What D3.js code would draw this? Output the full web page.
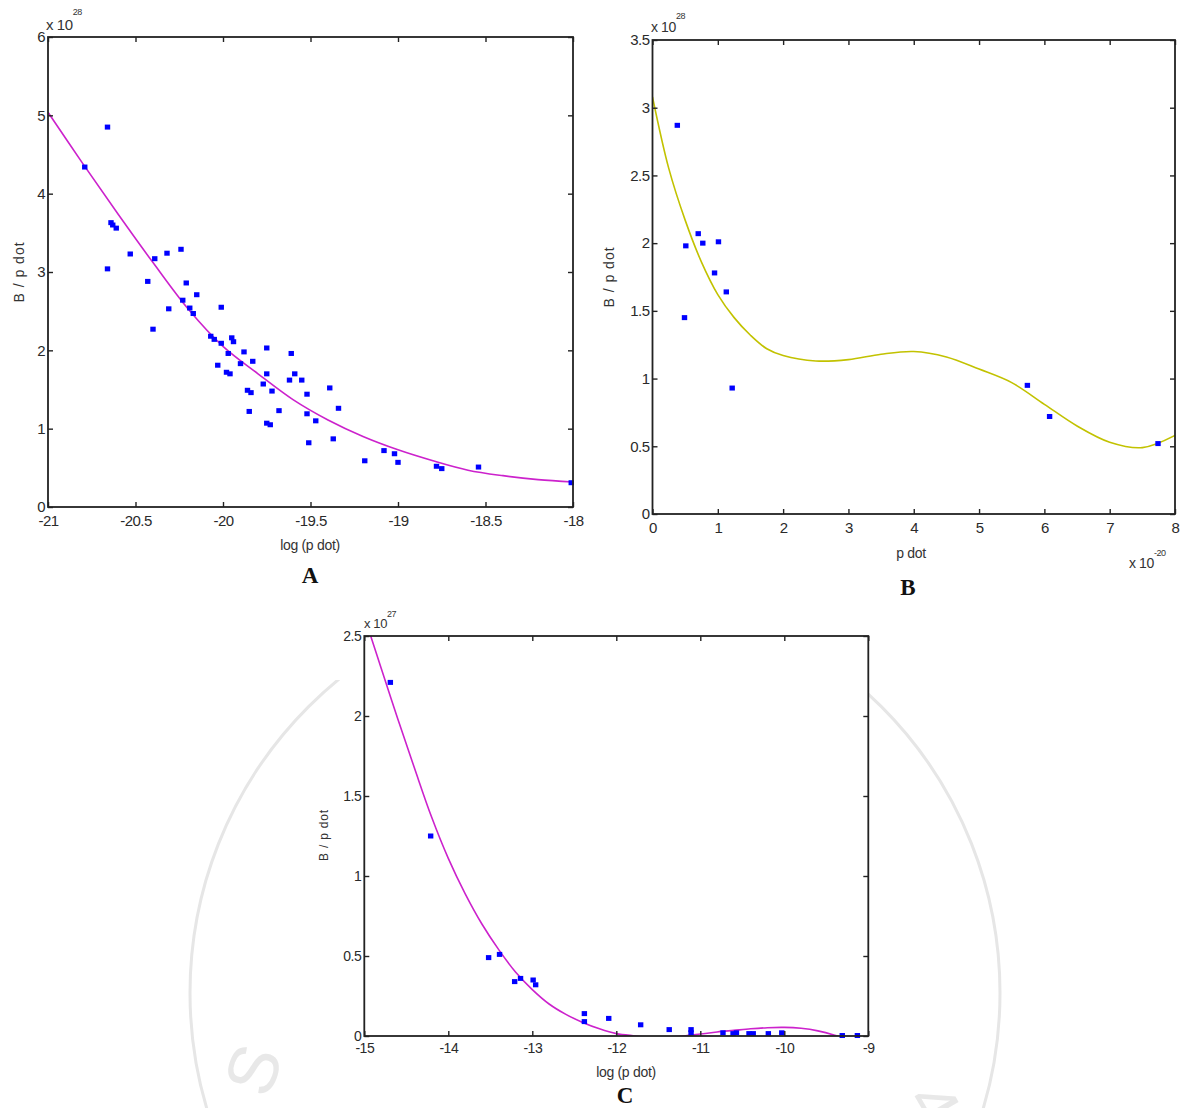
<!DOCTYPE html>
<html>
<head>
<meta charset="utf-8">
<script src="https://cdn.jsdelivr.net/npm/d3@7"></script>
<style>
  body { margin: 0; background: #fff; }
  text { font-family: "Liberation Sans", Arial, sans-serif; fill: #2a2a2a; }
</style>
</head>
<body>
<div id="chart"></div>
<script>
// ---- Panel A: B / p dot against log(p dot) ----
const aDotX = [-20.66, -20.79, -20.64, -20.61, -20.63, -20.53, -20.66, -20.39, -20.32, -20.24, -20.43, -20.21, -20.15, -20.23, -20.31, -20.19, -20.17, -20.01, -20.40, -20.07, -20.05, -20.01, -19.95, -19.94, -19.97, -19.88, -20.03, -19.98, -19.96, -19.90, -19.83, -19.75, -19.61, -19.75, -19.77, -19.72, -19.86, -19.84, -19.85, -19.68, -19.75, -19.73, -19.62, -19.59, -19.55, -19.52, -19.52, -19.47, -19.51, -19.39, -19.34, -19.37, -19.19, -19.08, -19.02, -19.00, -18.78, -18.75, -18.54, -18.01];
const aDotY = [4.85, 4.34, 3.63, 3.56, 3.60, 3.23, 3.04, 3.17, 3.24, 3.29, 2.88, 2.86, 2.71, 2.64, 2.53, 2.54, 2.47, 2.55, 2.27, 2.18, 2.14, 2.09, 2.16, 2.11, 1.96, 1.98, 1.81, 1.72, 1.70, 1.83, 1.86, 2.03, 1.96, 1.70, 1.57, 1.48, 1.49, 1.46, 1.22, 1.23, 1.07, 1.05, 1.62, 1.70, 1.62, 1.44, 1.19, 1.10, 0.82, 1.52, 1.26, 0.87, 0.59, 0.72, 0.68, 0.57, 0.52, 0.49, 0.51, 0.31];
const aFitX = [-21, -20.8, -20.6, -20.4, -20.2, -20, -19.8, -19.6, -19.4, -19.2, -19, -18.8, -18.6, -18.4, -18.2, -18];
const aFitY = [5.04, 4.38, 3.74, 3.12, 2.53, 2.05, 1.70, 1.37, 1.11, 0.90, 0.73, 0.59, 0.47, 0.40, 0.35, 0.32];
const aTicksX = [-21, -20.5, -20, -19.5, -19, -18.5, -18];
const aTicksY = [0, 1, 2, 3, 4, 5, 6];

// ---- Panel B: B / p dot against p dot ----
const bDotX = [0.38, 0.51, 0.49, 0.70, 0.77, 1.01, 0.95, 1.13, 1.22, 5.74, 6.08, 7.74];
const bDotY = [2.87, 1.98, 1.45, 2.07, 2.00, 2.01, 1.78, 1.64, 0.93, 0.95, 0.72, 0.52];
const bFitX = [0, 0.25, 0.5, 0.75, 1, 1.25, 1.5, 1.75, 2, 2.5, 3, 3.5, 4, 4.5, 5, 5.5, 6, 6.5, 7, 7.5, 8];
const bFitY = [3.08, 2.55, 2.17, 1.86, 1.62, 1.45, 1.32, 1.22, 1.17, 1.13, 1.14, 1.18, 1.20, 1.16, 1.07, 0.97, 0.81, 0.65, 0.53, 0.49, 0.58];
const bTicksX = [0, 1, 2, 3, 4, 5, 6, 7, 8];
const bTicksY = [0, 0.5, 1, 1.5, 2, 2.5, 3, 3.5];

// ---- Panel C: B / p dot against log(p dot) ----
const cDotX = [-14.69, -14.21, -13.52, -13.39, -13.21, -13.14, -12.99, -12.96, -12.38, -12.38, -12.09, -11.71, -11.37, -11.11, -11.11, -10.73, -10.61, -10.57, -10.42, -10.37, -10.19, -10.03, -9.31, -9.13];
const cDotY = [2.21, 1.25, 0.49, 0.51, 0.34, 0.36, 0.35, 0.32, 0.14, 0.09, 0.11, 0.07, 0.04, 0.04, 0.02, 0.02, 0.015, 0.02, 0.015, 0.015, 0.015, 0.02, 0.003, 0.003];
const cFitX = [-14.93, -14.8, -14.6, -14.4, -14.2, -14.0, -13.8, -13.6, -13.4, -13.2, -13.0, -12.8, -12.6, -12.4, -12.2, -12.0, -11.8, -11.6, -11.4, -11.2, -11.0, -10.8, -10.6, -10.4, -10.2, -10.0, -9.8, -9.6, -9.4, -9.2, -9.0];
const cFitY = [2.51, 2.30, 1.98, 1.67, 1.37, 1.11, 0.89, 0.70, 0.54, 0.40, 0.29, 0.20, 0.135, 0.085, 0.045, 0.015, 0.002, -0.006, -0.006, 0.0, 0.012, 0.025, 0.035, 0.045, 0.052, 0.054, 0.048, 0.032, 0.005, -0.03, -0.08];
const cTicksX = [-15, -14, -13, -12, -11, -10, -9];
const cTicksY = [0, 0.5, 1, 1.5, 2, 2.5];

const width = 1182;
const height = 1108;

const svg = d3.select('#chart')
    .append('svg')
    .attr('width', width)
    .attr('height', height);

svg.append('rect')
    .attr('width', width)
    .attr('height', height)
    .attr('fill', '#fff');

// faint watermark behind panel C
svg.append('clipPath').attr('id', 'wm-clip')
    .append('rect').attr('x', 0).attr('y', 680).attr('width', width).attr('height', height - 680);
const wm = svg.append('g').attr('clip-path', 'url(#wm-clip)');
wm.append('circle')
    .attr('cx', 595).attr('cy', 993).attr('r', 405)
    .attr('fill', 'none').attr('stroke', '#e6e6e6').attr('stroke-width', 3);
wm.append('text')
    .attr('transform', 'translate(268,1100) rotate(-70)')
    .style('font-size', '70px').style('fill', '#e8e8e8')
    .text('S');
wm.append('text')
    .attr('transform', 'translate(905,1100) rotate(60)')
    .style('font-size', '66px').style('fill', '#e8e8e8')
    .text('4');

function drawPanel(p)
{
    const x = d3.scaleLinear().domain(p.xDomain).range([p.left, p.right]);
    const y = d3.scaleLinear().domain(p.yDomain).range([p.bottom, p.top]);
    const g = svg.append('g');

    g.append('rect')
        .attr('x', p.left).attr('y', p.top)
        .attr('width', p.right - p.left).attr('height', p.bottom - p.top)
        .attr('fill', '#fff');

    g.append('clipPath').attr('id', p.id + '-clip')
        .append('rect')
        .attr('x', p.left).attr('y', p.top)
        .attr('width', p.right - p.left).attr('height', p.bottom - p.top);

    // fitted curve
    const fit = p.fitX.map((v, i) => [v, p.fitY[i]]);
    g.append('path')
        .datum(fit)
        .attr('clip-path', `url(#${p.id}-clip)`)
        .attr('fill', 'none')
        .attr('stroke', p.fitColor)
        .attr('stroke-width', 1.6)
        .attr('d', d3.line()
            .x(d => x(d[0]))
            .y(d => y(d[1]))
            .curve(d3.curveCatmullRom));

    // data points
    const dots = p.dotX.map((v, i) => [v, p.dotY[i]]);
    g.selectAll('.dot')
        .data(dots)
        .enter()
        .append('rect')
        .attr('class', 'dot')
        .attr('x', d => x(d[0]) - 2.7)
        .attr('y', d => y(d[1]) - 2.5)
        .attr('width', 5.4)
        .attr('height', 5)
        .attr('fill', '#0000ff');

    // axes, ticks on the inside on all four sides
    const fmt = d => String(d);
    const styleAxis = sel => {
        sel.select('.domain').remove();
        sel.selectAll('line').attr('stroke', '#222').attr('stroke-width', 1.4);
        sel.selectAll('text')
            .style('font-family', '"Liberation Sans", Arial, sans-serif')
            .style('font-size', p.tickSize + 'px')
            .style('letter-spacing', '-0.5px')
            .attr('fill', '#333');
    };

    g.append('g')
        .attr('transform', `translate(0, ${p.bottom})`)
        .call(d3.axisBottom(x).tickValues(p.ticksX).tickFormat(fmt)
            .tickSizeInner(-5).tickSizeOuter(0).tickPadding(p.padX))
        .call(styleAxis);
    g.append('g')
        .attr('transform', `translate(${p.left}, 0)`)
        .call(d3.axisLeft(y).tickValues(p.ticksY).tickFormat(fmt)
            .tickSizeInner(-5).tickSizeOuter(0).tickPadding(3))
        .call(styleAxis);
    g.append('g')
        .attr('transform', `translate(0, ${p.top})`)
        .call(d3.axisTop(x).tickValues(p.ticksX).tickFormat('')
            .tickSizeInner(-5).tickSizeOuter(0))
        .call(styleAxis);
    g.append('g')
        .attr('transform', `translate(${p.right}, 0)`)
        .call(d3.axisRight(y).tickValues(p.ticksY).tickFormat('')
            .tickSizeInner(-5).tickSizeOuter(0))
        .call(styleAxis);

    // box
    g.append('rect')
        .attr('x', p.left).attr('y', p.top)
        .attr('width', p.right - p.left).attr('height', p.bottom - p.top)
        .attr('fill', 'none')
        .attr('stroke', '#222')
        .attr('stroke-width', 1.8);

    // exponent labels
    p.exponents.forEach(e => {
        const t = g.append('text')
            .attr('x', e.x).attr('y', e.y)
            .style('font-size', e.size + 'px')
            .style('letter-spacing', '-0.4px')
            .style('fill', '#333');
        t.append('tspan').text('x 10');
        t.append('tspan')
            .attr('dy', -e.raise)
            .style('font-size', '9px')
            .text(e.power);
    });

    // axis titles
    g.append('text')
        .attr('x', p.xLabel.x).attr('y', p.xLabel.y)
        .style('text-anchor', 'middle')
        .style('font-size', p.xLabel.size + 'px')
        .style('letter-spacing', '-0.3px')
        .style('fill', '#333')
        .text(p.xLabel.text);
    g.append('text')
        .attr('transform', `translate(${p.yLabel.x}, ${p.yLabel.y}) rotate(-90)`)
        .style('text-anchor', 'middle')
        .style('font-size', p.yLabel.size + 'px')
        .style('letter-spacing', p.yLabel.spacing + 'px')
        .style('fill', '#333')
        .text('B / p dot');

    // panel letter
    g.append('text')
        .attr('x', p.letter.x).attr('y', p.letter.y)
        .style('text-anchor', 'middle')
        .style('font-family', '"Liberation Serif", "Times New Roman", serif')
        .style('font-weight', 'bold')
        .style('font-size', '23px')
        .style('fill', '#111')
        .text(p.letter.text);
}

drawPanel({
    id: 'pa',
    left: 48, right: 573, top: 37, bottom: 507,
    xDomain: [-21, -18], yDomain: [0, 6],
    ticksX: aTicksX, ticksY: aTicksY, tickSize: 15, padX: 8,
    dotX: aDotX, dotY: aDotY,
    fitX: aFitX, fitY: aFitY, fitColor: '#cc22cc',
    exponents: [{ x: 46, y: 30, power: '28', size: 15, raise: 15 }],
    xLabel: { text: 'log (p dot)', x: 310, y: 550, size: 14 },
    yLabel: { x: 24, y: 272, size: 14, spacing: 1 },
    letter: { text: 'A', x: 310, y: 583 }
});

drawPanel({
    id: 'pb',
    left: 652.5, right: 1175, top: 40, bottom: 514,
    xDomain: [0, 8], yDomain: [0, 3.5],
    ticksX: bTicksX, ticksY: bTicksY, tickSize: 15, padX: 8,
    dotX: bDotX, dotY: bDotY,
    fitX: bFitX, fitY: bFitY, fitColor: '#c2c200',
    exponents: [{ x: 651, y: 32, power: '28', size: 14, raise: 13 },
                { x: 1129, y: 568, power: '-20', size: 14, raise: 12 }],
    xLabel: { text: 'p dot', x: 911, y: 558, size: 14 },
    yLabel: { x: 614, y: 277, size: 14, spacing: 1 },
    letter: { text: 'B', x: 908, y: 595 }
});

drawPanel({
    id: 'pc',
    left: 364.3, right: 868.3, top: 636, bottom: 1036,
    xDomain: [-15, -9], yDomain: [0, 2.5],
    ticksX: cTicksX, ticksY: cTicksY, tickSize: 14, padX: 7,
    dotX: cDotX, dotY: cDotY,
    fitX: cFitX, fitY: cFitY, fitColor: '#cc22cc',
    exponents: [{ x: 364, y: 628, power: '27', size: 13, raise: 11 }],
    xLabel: { text: 'log (p dot)', x: 626, y: 1077, size: 14 },
    yLabel: { x: 328, y: 835, size: 12, spacing: 0.8 },
    letter: { text: 'C', x: 625, y: 1103 }
});
</script>
</body>
</html>
